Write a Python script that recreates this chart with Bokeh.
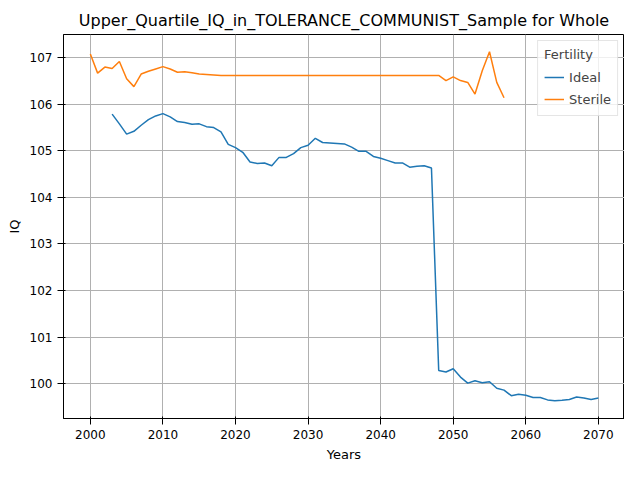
from bokeh.plotting import figure
from bokeh.models import Range1d, Legend, LegendItem
from bokeh.embed import file_html
from bokeh.resources import INLINE

ideal_years = list(range(2003, 2071))
ideal_iq = [105.79,105.58,105.36,105.42,105.55,105.67,105.75,105.80,105.73,105.63,
            105.61,105.57,105.58,105.52,105.50,105.41,105.14,105.07,104.97,104.76,
            104.73,104.74,104.68,104.86,104.86,104.94,105.07,105.12,105.27,105.18,
            105.17,105.16,105.15,105.08,104.99,104.99,104.88,104.84,104.79,104.74,
            104.74,104.65,104.67,104.68,104.63,
            100.28,100.25,100.32,100.14,100.01,100.06,100.02,100.04,99.90,99.86,
            99.74,99.77,99.75,99.70,99.70,99.65,99.63,99.64,99.66,99.71,99.69,99.66,99.69]
sterile_years = list(range(2000, 2058))
sterile_iq = [107.08,106.67,106.80,106.77,106.92,106.55,106.38,106.65,106.71,106.76,
              106.81,106.76,106.69,106.70,106.68,106.65,106.64,106.63] + [106.62]*31 + \
             [106.51,106.59,106.51,106.47,106.22,106.72,107.13,106.47,106.14]

p = figure(width=624, height=464, output_backend="svg", toolbar_location=None,
           title="Upper_Quartile_IQ_in_TOLERANCE_COMMUNIST_Sample for Whole",
           x_range=Range1d(1996.3, 2073.6), y_range=Range1d(99.25, 107.5),
           min_border_left=63, min_border_right=0, min_border_top=34, min_border_bottom=42)
p.title.text_font = "DejaVu Sans"
p.title.text_font_size = "16px"
p.title.text_font_style = "normal"
p.title.text_color = "black"
p.title.align = "center"
p.xaxis.axis_label = "Years"
p.yaxis.axis_label = "IQ"
for ax in (p.xaxis[0], p.yaxis[0]):
    ax.axis_label_text_font = "DejaVu Sans"
    ax.axis_label_text_font_style = "normal"
    ax.axis_label_text_font_size = "13px"
    ax.axis_label_text_color = "black"
    ax.major_label_text_font = "DejaVu Sans"
    ax.major_label_text_font_size = "12px"
    ax.major_label_text_color = "black"
    ax.minor_tick_line_color = None
    ax.axis_line_color = "black"
    ax.major_tick_line_color = "black"
p.xaxis.ticker = [2000, 2010, 2020, 2030, 2040, 2050, 2060, 2070]
p.yaxis.ticker = [100, 101, 102, 103, 104, 105, 106, 107]
p.grid.grid_line_color = "#b0b0b0"
p.grid.grid_line_alpha = 1
p.outline_line_color = "black"

l1 = p.line(ideal_years, ideal_iq, line_color="#1f77b4", line_width=1.5)
l2 = p.line(sterile_years, sterile_iq, line_color="#ff7f0e", line_width=1.5)
leg = Legend(items=[LegendItem(label="Ideal", renderers=[l1]),
                    LegendItem(label="Sterile", renderers=[l2])],
             location="top_right", title="Fertility")
leg.title_text_font = "DejaVu Sans"
leg.label_text_font = "DejaVu Sans"
leg.title_text_font_size = "13px"
leg.title_text_font_style = "normal"
leg.label_text_font_size = "13px"
leg.border_line_color = "#cccccc"
leg.background_fill_alpha = 0.8
leg.spacing = 2
leg.padding = 6
leg.margin = 6
p.add_layout(leg)

open("out.html", "w").write(file_html(p, INLINE))
